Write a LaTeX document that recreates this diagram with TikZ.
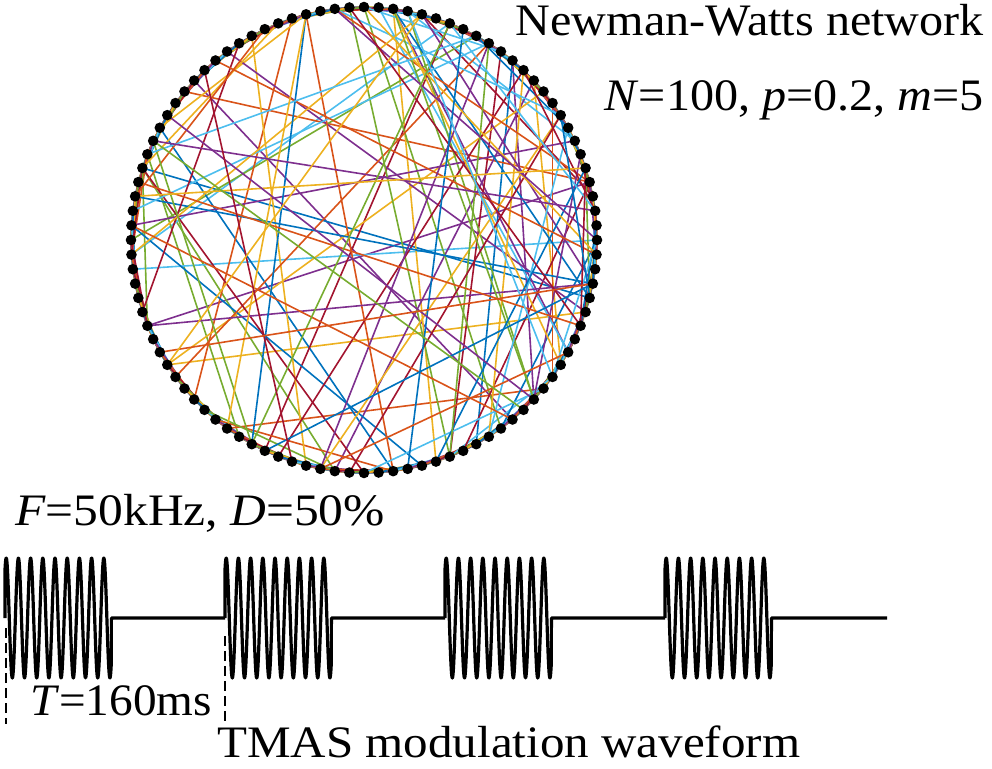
\documentclass[tikz,border=0pt]{standalone}
\usepackage{fontspec}
\setmainfont{Liberation Serif}
\definecolor{c1}{HTML}{0072BD}
\definecolor{c2}{HTML}{D95319}
\definecolor{c3}{HTML}{EDB120}
\definecolor{c4}{HTML}{7E2F8E}
\definecolor{c5}{HTML}{77AC30}
\definecolor{c6}{HTML}{4DBEEE}
\definecolor{c7}{HTML}{A2142F}
\begin{document}
\begin{tikzpicture}[x=1pt,y=-1pt,
  vertex/.style={circle,inner sep=0pt,minimum size=11pt},
  edge/.style={line width=1.6pt},
  wave/.style={line width=3.2pt,line join=round},
  dashline/.style={line width=1.8pt,dash pattern=on 10pt off 5pt},
  lbl/.style={inner sep=0pt,font=\fontsize{45}{50}\selectfont}]
\useasboundingbox (0,0) rectangle (992,768);
% nodes of the ring (positions; filled after the edges so the dots lie on top)
\foreach \i in {0,...,99}
  \node[vertex] (n\i) at ({364+233*cos(3.6*\i)},{240-233*sin(3.6*\i)}) {};
% ring-lattice edges (m = 5 neighbours)
\foreach \i in {0,...,99}{
  \foreach \d in {1,...,5}{
    \pgfmathtruncatemacro{\j}{mod(\i+\d,100)}
    \pgfmathtruncatemacro{\c}{mod(5*\i+\d,7)+1}
    \draw[edge,color=c\c] (n\i.center) -- (n\j.center);
  }
}
% random shortcuts
\pgfmathsetseed{20231}
\foreach \k in {1,...,100}{
  \pgfmathrandominteger{\a}{0}{99}
  \pgfmathrandominteger{\s}{6}{94}
  \pgfmathtruncatemacro{\b}{mod(\a+\s,100)}
  \pgfmathtruncatemacro{\c}{mod(\k,7)+1}
  \draw[edge,color=c\c] (n\a.center) -- (n\b.center);
}
% dots on top
\foreach \i in {0,...,99}
  \fill[black] (n\i.center) circle[radius=5.3pt];
% waveform
\foreach \k in {0,...,3}{
  \pgfmathsetmacro{\xo}{5+220*\k}
  \pgfmathsetmacro{\xe}{\xo+106.4}
  \pgfmathsetmacro{\xn}{ifthenelse(\k==3,887,\xo+220)}
  \coordinate (b\k) at (\xo,618);
  \coordinate (e\k) at (\xe,618);
  \coordinate (f\k) at (\xn,618);
  \draw[wave] (b\k) -- plot[domain=-0.1:8.62,samples=320,smooth] ({\xo+12.2*(\x+0.1)},{618-60*cos(360*\x)}) -- (e\k) -- (f\k);
}
% period markers
\coordinate (d1a) at (6,628);
\coordinate (d1b) at (6,724);
\coordinate (d2a) at (225,636);
\coordinate (d2b) at (225,724);
\draw[dashline] (d1a) -- (d1b);
\draw[dashline] (d2a) -- (d2b);
% labels
\node[lbl,anchor=base east] (title) at (984,36) {\scalebox{1.07}[1]{Newman-Watts network}};
\node[lbl,anchor=base east] (params) at (984,110) {\scalebox{1.07}[1]{\textit{N}=100, \textit{p}=0.2, \textit{m}=5}};
\node[lbl,anchor=base west] (freq) at (15,525) {\scalebox{1.1}[1]{\textit{F}=50kHz, \textit{D}=50\%}};
\node[lbl,anchor=base west] (per) at (30,715) {\scalebox{1.05}[1]{\textit{T}=160ms}};
\node[lbl,anchor=base west] (cap) at (217,757) {\scalebox{1.09}[1]{TMAS modulation waveform}};
\end{tikzpicture}
\end{document}
